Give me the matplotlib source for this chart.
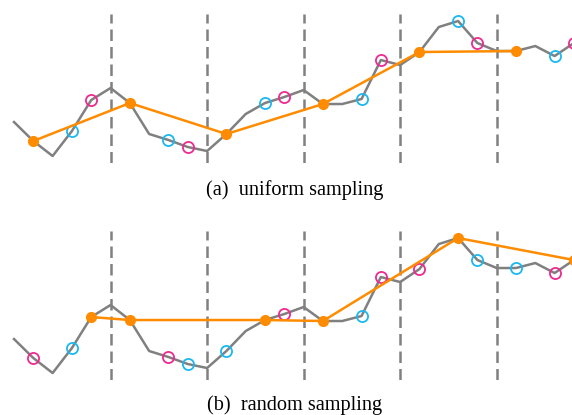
import numpy as np
import matplotlib
matplotlib.use("Agg")
import matplotlib.pyplot as plt

# underlying series (same in both panels)
signal = [3.8, 1.9, 0.4, 2.9, 6.0, 7.2, 5.7, 2.6, 2.0, 1.3,
          0.9, 2.6, 4.6, 5.7, 6.3, 7.0, 5.6, 5.6, 6.1, 10.0,
          9.5, 10.8, 13.3, 13.9, 11.7, 10.9, 10.9, 11.4, 10.4, 11.7]
boundaries = [5, 10, 15, 20, 25]

# sampled indices per panel
uniform_orange = [1, 6, 11, 16, 21, 26]
uniform_blue = [3, 8, 13, 18, 23, 28]
uniform_pink = [4, 9, 14, 19, 24, 29]

random_orange = [4, 6, 13, 16, 23, 29]
random_blue = [3, 9, 11, 18, 24, 26]
random_pink = [1, 8, 14, 19, 21, 28]

captions = ["(a)  uniform sampling", "(b)  random sampling"]

GRAY = "#808080"
ORANGE = "#ff8c00"
BLUE = "#1ab8f0"
PINK = "#ec2a90"

fig = plt.figure(figsize=(5.72, 4.15), dpi=100)
y = np.array(signal)
x = np.arange(len(y))

panels = [
    (0.6072, uniform_orange, uniform_blue, uniform_pink),
    (0.0843, random_orange, random_blue, random_pink),
]
cap_y = [1 - 190 / 415, 1 - 405 / 415]

for k, (bottom, orange, blue, pink) in enumerate(panels):
    ax = fig.add_axes([0, bottom, 1, 0.359])
    for b in boundaries:
        ax.axvline(b, color=GRAY, lw=1.8, ls=(0, (4.6, 2.4)), zorder=1)
    ax.plot(x, y, color=GRAY, lw=1.8, zorder=2)
    ax.plot(orange, y[orange], color=ORANGE, lw=1.8, marker="o",
            markersize=7, zorder=4)
    ax.plot(blue, y[blue], ls="none", marker="o", markersize=8,
            markerfacecolor="none", markeredgecolor=BLUE, mew=1.3, zorder=3)
    ax.plot(pink, y[pink], ls="none", marker="o", markersize=8,
            markerfacecolor="none", markeredgecolor=PINK, mew=1.3, zorder=3)
    ax.set_xlim(-0.725, 28.9)
    ax.set_ylim(-0.3, 14.6)
    ax.axis("off")
    fig.text(0.515, cap_y[k], captions[k], ha="center", va="center",
             family="Liberation Serif", fontsize=14.6)

fig.savefig("out.png", dpi=100)
